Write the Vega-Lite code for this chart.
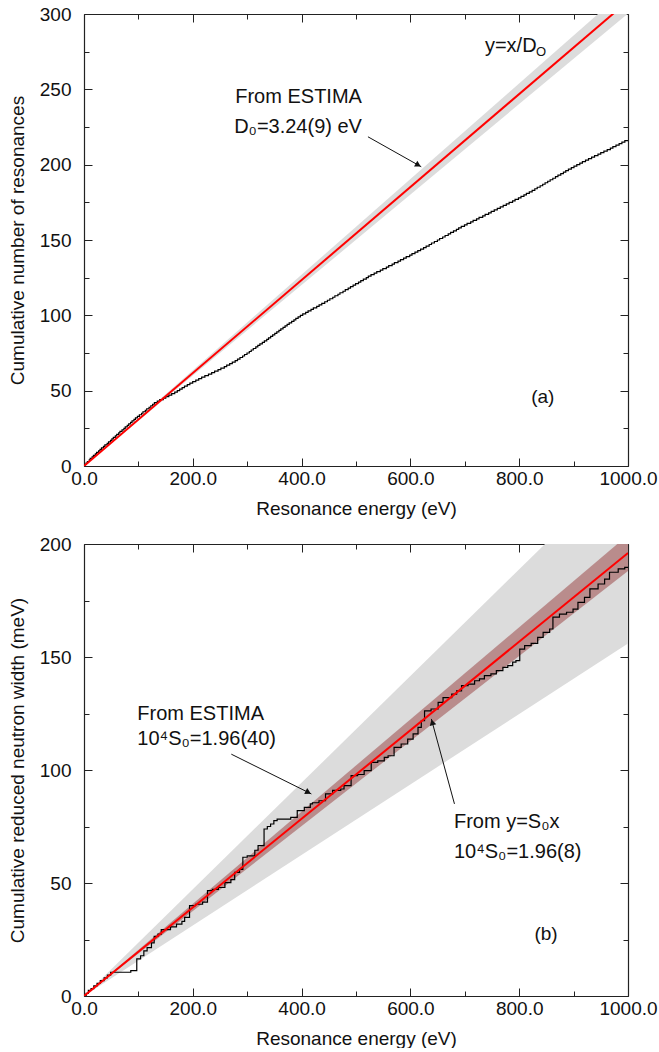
{
  "$schema": "https://vega.github.io/schema/vega-lite/v6.json",
  "padding": {"left": 8, "top": 5, "right": 0, "bottom": 0},
  "bounds": "flush",
  "spacing": 78,
  "config": {
    "font": "Liberation Sans",
    "view": {"stroke": null},
    "axis": {
      "grid": false,
      "labelFont": "Liberation Sans",
      "labelFontSize": 19,
      "labelColor": "#111",
      "titleFont": "Liberation Sans",
      "titleFontSize": 19,
      "titleFontWeight": "normal",
      "titleColor": "#111",
      "domainColor": "#222",
      "domainWidth": 1.2,
      "tickColor": "#222",
      "tickWidth": 1,
      "labelFlush": false,
      "labelOverlap": false,
      "labelBound": false
    },
    "text": {"font": "Liberation Sans", "fontSize": 19, "color": "#111", "align": "left", "baseline": "middle"}
  },
  "vconcat": [
    {
      "width": 544,
      "height": 452,
      "layer": [
        {
          "data": {"values": [{"E": 0, "lo": 0, "hi": 0}, {"E": 1000, "lo": 300.3, "hi": 317.5}]},
          "mark": {"type": "area", "color": "#dcdcdc", "clip": true},
          "encoding": {
            "x": {"field": "E", "type": "quantitative", "scale": {"domain": [0, 1000], "nice": false},
              "axis": {"orient": "bottom", "title": "Resonance energy (eV)", "values": [0, 100, 200, 300, 400, 500, 600, 700, 800, 900, 1000],
                "labelExpr": "datum.value % 200 === 0 ? format(datum.value, '.1f') : ''",
                "tickSize": {"condition": {"test": "datum.value % 200 === 0", "value": -8}, "value": -5},
                "labelPadding": 11, "titlePadding": 8}},
            "y": {"field": "lo", "type": "quantitative", "scale": {"domain": [0, 300], "nice": false},
              "axis": {"orient": "left", "title": "Cumulative number of resonances", "values": [0, 25, 50, 75, 100, 125, 150, 175, 200, 225, 250, 275, 300],
                "labelExpr": "datum.value % 50 === 0 ? datum.label : ''",
                "tickSize": {"condition": {"test": "datum.value % 50 === 0", "value": -8}, "value": -5},
                "labelPadding": 21, "titlePadding": 12}},
            "y2": {"field": "hi"}
          }
        },
        {
          "data": {"name": "levels", "values": [
            {"E": 0, "N": 0},
            {"E": 1.5, "N": 1}, {"E": 3.8, "N": 2}, {"E": 6.2, "N": 3}, {"E": 9.7, "N": 4}, {"E": 11.4, "N": 5}, {"E": 14.9, "N": 6}, {"E": 17.3, "N": 7}, {"E": 20.8, "N": 8}, {"E": 23.1, "N": 9}, {"E": 26.9, "N": 10},
            {"E": 29.5, "N": 11}, {"E": 32.2, "N": 12}, {"E": 35.8, "N": 13}, {"E": 38.4, "N": 14}, {"E": 42.6, "N": 15}, {"E": 45.1, "N": 16}, {"E": 48.7, "N": 17},
            {"E": 51.3, "N": 18}, {"E": 53.9, "N": 19}, {"E": 57.6, "N": 20}, {"E": 60.2, "N": 21}, {"E": 63.8, "N": 22}, {"E": 66.1, "N": 23}, {"E": 69.9, "N": 24}, {"E": 73.4, "N": 25},
            {"E": 75.8, "N": 26}, {"E": 79.5, "N": 27}, {"E": 82.2, "N": 28}, {"E": 85.7, "N": 29}, {"E": 88.3, "N": 30}, {"E": 91.9, "N": 31}, {"E": 94.6, "N": 32}, {"E": 98.2, "N": 33},
            {"E": 101.8, "N": 34}, {"E": 105.9, "N": 35}, {"E": 108.4, "N": 36}, {"E": 112.7, "N": 37}, {"E": 115.3, "N": 38}, {"E": 119.6, "N": 39}, {"E": 122.8, "N": 40}, {"E": 126.1, "N": 41}, {"E": 129.4, "N": 42},
            {"E": 134.7, "N": 43}, {"E": 139.2, "N": 44}, {"E": 145.8, "N": 45}, {"E": 150.3, "N": 46}, {"E": 155.9, "N": 47}, {"E": 161.2, "N": 48}, {"E": 166.8, "N": 49}, {"E": 171.5, "N": 50},
            {"E": 175.9, "N": 51}, {"E": 180.4, "N": 52}, {"E": 184.7, "N": 53}, {"E": 189.9, "N": 54}, {"E": 194.6, "N": 55}, {"E": 199.8, "N": 56}, {"E": 205.5, "N": 57}, {"E": 210.9, "N": 58}, {"E": 216.3, "N": 59},
            {"E": 222.2, "N": 60}, {"E": 228.8, "N": 61}, {"E": 234.7, "N": 62}, {"E": 240.1, "N": 63}, {"E": 246.4, "N": 64}, {"E": 251.6, "N": 65}, {"E": 257.9, "N": 66}, {"E": 262.3, "N": 67}, {"E": 267.8, "N": 68},
            {"E": 272.6, "N": 69}, {"E": 277.9, "N": 70}, {"E": 282.2, "N": 71}, {"E": 286.7, "N": 72}, {"E": 291.5, "N": 73}, {"E": 295.1, "N": 74}, {"E": 299.6, "N": 75}, {"E": 303.9, "N": 76},
            {"E": 307.4, "N": 77}, {"E": 311.2, "N": 78}, {"E": 315.8, "N": 79}, {"E": 319.5, "N": 80}, {"E": 323.3, "N": 81},
            {"E": 327.8, "N": 82}, {"E": 331.6, "N": 83}, {"E": 335.9, "N": 84}, {"E": 339.2, "N": 85}, {"E": 343.1, "N": 86}, {"E": 346.8, "N": 87}, {"E": 350.7, "N": 88}, {"E": 354.4, "N": 89},
            {"E": 358.3, "N": 90}, {"E": 361.8, "N": 91}, {"E": 365.9, "N": 92}, {"E": 369.6, "N": 93}, {"E": 373.4, "N": 94}, {"E": 377.2, "N": 95}, {"E": 381.7, "N": 96}, {"E": 385.9, "N": 97}, {"E": 389.4, "N": 98}, {"E": 393.6, "N": 99},
            {"E": 397.8, "N": 100}, {"E": 402.1, "N": 101}, {"E": 407.5, "N": 102}, {"E": 411.9, "N": 103}, {"E": 417.3, "N": 104}, {"E": 421.6, "N": 105}, {"E": 427.8, "N": 106}, {"E": 432.2, "N": 107}, {"E": 437.1, "N": 108}, {"E": 442.5, "N": 109}, {"E": 447.4, "N": 110},
            {"E": 451.9, "N": 111}, {"E": 457.3, "N": 112}, {"E": 461.2, "N": 113}, {"E": 466.8, "N": 114}, {"E": 470.5, "N": 115}, {"E": 476.1, "N": 116}, {"E": 480.3, "N": 117}, {"E": 485.6, "N": 118}, {"E": 489.9, "N": 119},
            {"E": 494.7, "N": 120}, {"E": 499.2, "N": 121}, {"E": 504.6, "N": 122}, {"E": 508.8, "N": 123}, {"E": 513.5, "N": 124}, {"E": 518.9, "N": 125}, {"E": 522.7, "N": 126}, {"E": 527.6, "N": 127},
            {"E": 533.4, "N": 128}, {"E": 538.2, "N": 129}, {"E": 544.7, "N": 130}, {"E": 549.3, "N": 131}, {"E": 555.8, "N": 132}, {"E": 560.1, "N": 133}, {"E": 566.4, "N": 134}, {"E": 570.6, "N": 135},
            {"E": 577.2, "N": 136}, {"E": 581.8, "N": 137}, {"E": 587.5, "N": 138}, {"E": 592.3, "N": 139}, {"E": 598.7, "N": 140}, {"E": 602.9, "N": 141}, {"E": 608.4, "N": 142}, {"E": 613.6, "N": 143},
            {"E": 618.7, "N": 144}, {"E": 624.2, "N": 145}, {"E": 628.9, "N": 146}, {"E": 634.5, "N": 147}, {"E": 638.8, "N": 148}, {"E": 644.1, "N": 149}, {"E": 649.6, "N": 150}, {"E": 653.7, "N": 151},
            {"E": 659.3, "N": 152}, {"E": 663.8, "N": 153}, {"E": 669.5, "N": 154}, {"E": 673.9, "N": 155}, {"E": 679.2, "N": 156}, {"E": 684.6, "N": 157}, {"E": 688.7, "N": 158}, {"E": 693.5, "N": 159},
            {"E": 699.4, "N": 160}, {"E": 704.2, "N": 161}, {"E": 710.8, "N": 162}, {"E": 715.3, "N": 163}, {"E": 721.6, "N": 164}, {"E": 726.2, "N": 165}, {"E": 732.9, "N": 166}, {"E": 737.4, "N": 167},
            {"E": 743.8, "N": 168}, {"E": 748.5, "N": 169}, {"E": 754.1, "N": 170}, {"E": 759.7, "N": 171}, {"E": 765.2, "N": 172}, {"E": 770.6, "N": 173}, {"E": 776.3, "N": 174}, {"E": 781.5, "N": 175},
            {"E": 787.8, "N": 176}, {"E": 792.4, "N": 177}, {"E": 798.6, "N": 178}, {"E": 803.3, "N": 179}, {"E": 808.7, "N": 180}, {"E": 813.2, "N": 181},
            {"E": 818.6, "N": 182}, {"E": 823.8, "N": 183}, {"E": 828.7, "N": 184}, {"E": 833.1, "N": 185}, {"E": 838.5, "N": 186}, {"E": 843.2, "N": 187}, {"E": 847.6, "N": 188}, {"E": 852.4, "N": 189},
            {"E": 856.9, "N": 190}, {"E": 861.8, "N": 191}, {"E": 866.7, "N": 192}, {"E": 871.2, "N": 193}, {"E": 876.4, "N": 194}, {"E": 881.3, "N": 195}, {"E": 885.6, "N": 196}, {"E": 890.5, "N": 197},
            {"E": 895.8, "N": 198}, {"E": 900.7, "N": 199}, {"E": 905.9, "N": 200}, {"E": 911.4, "N": 201},
            {"E": 916.2, "N": 202}, {"E": 921.9, "N": 203}, {"E": 927.4, "N": 204}, {"E": 933.1, "N": 205}, {"E": 938.5, "N": 206}, {"E": 944.8, "N": 207}, {"E": 949.9, "N": 208}, {"E": 955.7, "N": 209},
            {"E": 961.8, "N": 210}, {"E": 967.6, "N": 211}, {"E": 972.2, "N": 212}, {"E": 977.9, "N": 213}, {"E": 983.7, "N": 214}, {"E": 988.8, "N": 215}, {"E": 994.2, "N": 216},
            {"E": 1000, "N": 216}
          ]},
          "mark": {"type": "line", "interpolate": "step-after", "color": "#000", "strokeWidth": 1.2, "clip": true},
          "encoding": {
            "x": {"field": "E", "type": "quantitative", "scale": {"domain": [0, 1000], "nice": false},
              "axis": {"orient": "top", "title": null, "labels": false, "values": [0, 100, 200, 300, 400, 500, 600, 700, 800, 900, 1000],
                "tickSize": {"condition": {"test": "datum.value % 200 === 0", "value": -8}, "value": -5}}},
            "y": {"field": "N", "type": "quantitative", "scale": {"domain": [0, 300], "nice": false},
              "axis": {"orient": "right", "title": null, "labels": false, "values": [0, 25, 50, 75, 100, 125, 150, 175, 200, 225, 250, 275, 300],
                "tickSize": {"condition": {"test": "datum.value % 50 === 0", "value": -8}, "value": -5}}}
          }
        },
        {
          "data": {"values": [{"E": 0, "N": 0}, {"E": 1000, "N": 308.6}]},
          "mark": {"type": "line", "color": "#ff0000", "strokeWidth": 2, "clip": true},
          "encoding": {
            "x": {"field": "E", "type": "quantitative", "scale": {"domain": [0, 1000], "nice": false}, "axis": null},
            "y": {"field": "N", "type": "quantitative", "scale": {"domain": [0, 300], "nice": false}, "axis": null}
          }
        },
        {
          "data": {"values": [
            {"E": 278, "N": 245, "t": "From ESTIMA"},
            {"E": 276, "N": 225, "t": "D₀=3.24(9) eV"},
            {"E": 737, "N": 279, "t": "y=x/D"}
          ]},
          "mark": {"type": "text", "fontSize": 20},
          "encoding": {
            "x": {"field": "E", "type": "quantitative", "scale": {"domain": [0, 1000], "nice": false}, "axis": null},
            "y": {"field": "N", "type": "quantitative", "scale": {"domain": [0, 300], "nice": false}, "axis": null},
            "text": {"field": "t"}
          }
        },
        {
          "data": {"values": [{"E": 822, "N": 46, "t": "(a)"}]},
          "mark": {"type": "text"},
          "encoding": {
            "x": {"field": "E", "type": "quantitative", "scale": {"domain": [0, 1000], "nice": false}, "axis": null},
            "y": {"field": "N", "type": "quantitative", "scale": {"domain": [0, 300], "nice": false}, "axis": null},
            "text": {"field": "t"}
          }
        },
        {
          "data": {"values": [{"E": 737, "N": 279, "t": "O"}]},
          "mark": {"type": "text", "fontSize": 13, "dx": 51, "dy": 6},
          "encoding": {
            "x": {"field": "E", "type": "quantitative", "scale": {"domain": [0, 1000], "nice": false}, "axis": null},
            "y": {"field": "N", "type": "quantitative", "scale": {"domain": [0, 300], "nice": false}, "axis": null},
            "text": {"field": "t"}
          }
        },
        {
          "data": {"values": [{"E": 522, "N": 218.5, "E2": 620, "N2": 198.6}]},
          "mark": {"type": "rule", "color": "#111", "strokeWidth": 1},
          "encoding": {
            "x": {"field": "E", "type": "quantitative", "scale": {"domain": [0, 1000], "nice": false}, "axis": null},
            "y": {"field": "N", "type": "quantitative", "scale": {"domain": [0, 300], "nice": false}, "axis": null},
            "x2": {"field": "E2"},
            "y2": {"field": "N2"}
          }
        },
        {
          "data": {"values": [{"E": 614.4, "N": 199.7}]},
          "mark": {"type": "point", "shape": "triangle-right", "filled": true, "color": "#111", "size": 45, "angle": 29.4, "opacity": 1},
          "encoding": {
            "x": {"field": "E", "type": "quantitative", "scale": {"domain": [0, 1000], "nice": false}, "axis": null},
            "y": {"field": "N", "type": "quantitative", "scale": {"domain": [0, 300], "nice": false}, "axis": null}
          }
        }
      ],
      "resolve": {"axis": {"x": "independent", "y": "independent"}}
    },
    {
      "width": 544,
      "height": 452,
      "layer": [
        {
          "data": {"values": [{"E": 0, "lo": 0, "hi": 0}, {"E": 1000, "lo": 156, "hi": 236}]},
          "mark": {"type": "area", "color": "#dcdcdc", "clip": true},
          "encoding": {
            "x": {"field": "E", "type": "quantitative", "scale": {"domain": [0, 1000], "nice": false},
              "axis": {"orient": "bottom", "title": "Resonance energy (eV)", "values": [0, 100, 200, 300, 400, 500, 600, 700, 800, 900, 1000],
                "labelExpr": "datum.value % 200 === 0 ? format(datum.value, '.1f') : ''",
                "tickSize": {"condition": {"test": "datum.value % 200 === 0", "value": -8}, "value": -5},
                "labelPadding": 11, "titlePadding": 8}},
            "y": {"field": "lo", "type": "quantitative", "scale": {"domain": [0, 200], "nice": false},
              "axis": {"orient": "left", "title": "Cumulative reduced neutron width (meV)", "values": [0, 25, 50, 75, 100, 125, 150, 175, 200],
                "labelExpr": "datum.value % 50 === 0 ? datum.label : ''",
                "tickSize": {"condition": {"test": "datum.value % 50 === 0", "value": -8}, "value": -5},
                "labelPadding": 21, "titlePadding": 12}},
            "y2": {"field": "hi"}
          }
        },
        {
          "data": {"values": [{"E": 0, "lo": 0, "hi": 0}, {"E": 1000, "lo": 188, "hi": 204}]},
          "mark": {"type": "area", "color": "#b98c8c", "clip": true},
          "encoding": {
            "x": {"field": "E", "type": "quantitative", "scale": {"domain": [0, 1000], "nice": false}, "axis": null},
            "y": {"field": "lo", "type": "quantitative", "scale": {"domain": [0, 200], "nice": false}, "axis": null},
            "y2": {"field": "hi"}
          }
        },
        {
          "data": {"values": [
            {"E": 0, "G": 0}, {"E": 4, "G": 1.2}, {"E": 8, "G": 2.5}, {"E": 13, "G": 3.3}, {"E": 18, "G": 4.5}, {"E": 24, "G": 5.6}, {"E": 30, "G": 6.8}, {"E": 37, "G": 8}, {"E": 43, "G": 9.2}, {"E": 49, "G": 10.5},
            {"E": 86, "G": 11.2}, {"E": 97, "G": 16.4}, {"E": 104, "G": 17.8}, {"E": 110, "G": 20}, {"E": 116, "G": 21.4}, {"E": 124, "G": 23.5}, {"E": 129, "G": 26.4}, {"E": 136, "G": 27.4},
            {"E": 142, "G": 29.4}, {"E": 159, "G": 30.6}, {"E": 170, "G": 31.8}, {"E": 180, "G": 33}, {"E": 185, "G": 34.8}, {"E": 194, "G": 40}, {"E": 205, "G": 40.6}, {"E": 218, "G": 41.5},
            {"E": 227, "G": 46.6}, {"E": 236, "G": 47.2}, {"E": 247, "G": 48}, {"E": 259, "G": 50.2}, {"E": 270, "G": 51.5}, {"E": 277, "G": 54.7}, {"E": 286, "G": 56}, {"E": 292, "G": 61.4},
            {"E": 300, "G": 62}, {"E": 314, "G": 64.5}, {"E": 320, "G": 66.5}, {"E": 331, "G": 73.9}, {"E": 337, "G": 75}, {"E": 343, "G": 76.1}, {"E": 349, "G": 77.6}, {"E": 355, "G": 78.3},
            {"E": 380, "G": 79}, {"E": 392, "G": 82}, {"E": 405, "G": 83.5}, {"E": 416, "G": 85}, {"E": 420, "G": 85.5}, {"E": 432, "G": 86.4}, {"E": 444, "G": 89.4}, {"E": 457, "G": 91},
            {"E": 472, "G": 91.6}, {"E": 478, "G": 93.1}, {"E": 491, "G": 97.5}, {"E": 503, "G": 98}, {"E": 515, "G": 99.7}, {"E": 528, "G": 103.4}, {"E": 540, "G": 104}, {"E": 552, "G": 105.6},
            {"E": 559, "G": 106.3}, {"E": 570, "G": 110}, {"E": 583, "G": 111.5}, {"E": 595, "G": 113.7}, {"E": 605, "G": 116}, {"E": 614, "G": 118.9}, {"E": 620, "G": 121.8}, {"E": 626, "G": 126.2},
            {"E": 638, "G": 127}, {"E": 651, "G": 129.9}, {"E": 660, "G": 132}, {"E": 676, "G": 133.6}, {"E": 685, "G": 135}, {"E": 694, "G": 137.3}, {"E": 706, "G": 138}, {"E": 718, "G": 139.5},
            {"E": 727, "G": 140.3}, {"E": 736, "G": 141.8}, {"E": 748, "G": 142.5}, {"E": 758, "G": 144}, {"E": 770, "G": 145.4}, {"E": 779, "G": 146.2}, {"E": 788, "G": 147.7}, {"E": 794, "G": 148.4},
            {"E": 801, "G": 153.5}, {"E": 810, "G": 155}, {"E": 822, "G": 156}, {"E": 834, "G": 158.7}, {"E": 844, "G": 160.9}, {"E": 856, "G": 162.4}, {"E": 862, "G": 167.6}, {"E": 874, "G": 169},
            {"E": 887, "G": 169.8}, {"E": 899, "G": 171.2}, {"E": 908, "G": 174.2}, {"E": 920, "G": 176.4}, {"E": 930, "G": 180.1}, {"E": 945, "G": 182.3}, {"E": 957, "G": 184.5}, {"E": 966, "G": 187.5},
            {"E": 982, "G": 189}, {"E": 994, "G": 189.7}, {"E": 1000, "G": 189.7}
          ]},
          "mark": {"type": "line", "interpolate": "step-after", "color": "#000", "strokeWidth": 1.2, "clip": true},
          "encoding": {
            "x": {"field": "E", "type": "quantitative", "scale": {"domain": [0, 1000], "nice": false},
              "axis": {"orient": "top", "title": null, "labels": false, "values": [0, 100, 200, 300, 400, 500, 600, 700, 800, 900, 1000],
                "tickSize": {"condition": {"test": "datum.value % 200 === 0", "value": -8}, "value": -5}}},
            "y": {"field": "G", "type": "quantitative", "scale": {"domain": [0, 200], "nice": false},
              "axis": {"orient": "right", "title": null, "labels": false, "values": [0, 25, 50, 75, 100, 125, 150, 175, 200],
                "tickSize": {"condition": {"test": "datum.value % 50 === 0", "value": -8}, "value": -5}}}
          }
        },
        {
          "data": {"values": [{"E": 0, "G": 0}, {"E": 1000, "G": 196}]},
          "mark": {"type": "line", "color": "#ff0000", "strokeWidth": 2, "clip": true},
          "encoding": {
            "x": {"field": "E", "type": "quantitative", "scale": {"domain": [0, 1000], "nice": false}, "axis": null},
            "y": {"field": "G", "type": "quantitative", "scale": {"domain": [0, 200], "nice": false}, "axis": null}
          }
        },
        {
          "data": {"values": [
            {"E": 98, "G": 124.8, "t": "From ESTIMA"},
            {"E": 98, "G": 113.7, "t": "10⁴S₀=1.96(40)"},
            {"E": 680, "G": 76.8, "t": "From y=S₀x"},
            {"E": 680, "G": 63.6, "t": "10⁴S₀=1.96(8)"}
          ]},
          "mark": {"type": "text", "fontSize": 20},
          "encoding": {
            "x": {"field": "E", "type": "quantitative", "scale": {"domain": [0, 1000], "nice": false}, "axis": null},
            "y": {"field": "G", "type": "quantitative", "scale": {"domain": [0, 200], "nice": false}, "axis": null},
            "text": {"field": "t"}
          }
        },
        {
          "data": {"values": [{"E": 828, "G": 27.4, "t": "(b)"}]},
          "mark": {"type": "text"},
          "encoding": {
            "x": {"field": "E", "type": "quantitative", "scale": {"domain": [0, 1000], "nice": false}, "axis": null},
            "y": {"field": "G", "type": "quantitative", "scale": {"domain": [0, 200], "nice": false}, "axis": null},
            "text": {"field": "t"}
          }
        },
        {
          "data": {"values": [{"E": 270.8, "G": 107, "E2": 418, "G2": 89.4}, {"E": 681, "G": 85, "E2": 638.5, "G2": 122.6}]},
          "mark": {"type": "rule", "color": "#111", "strokeWidth": 1},
          "encoding": {
            "x": {"field": "E", "type": "quantitative", "scale": {"domain": [0, 1000], "nice": false}, "axis": null},
            "y": {"field": "G", "type": "quantitative", "scale": {"domain": [0, 200], "nice": false}, "axis": null},
            "x2": {"field": "E2"},
            "y2": {"field": "G2"}
          }
        },
        {
          "data": {"values": [{"E": 412.3, "G": 90.1}]},
          "mark": {"type": "point", "shape": "triangle-right", "filled": true, "color": "#111", "size": 45, "angle": 26.6, "opacity": 1},
          "encoding": {
            "x": {"field": "E", "type": "quantitative", "scale": {"domain": [0, 1000], "nice": false}, "axis": null},
            "y": {"field": "G", "type": "quantitative", "scale": {"domain": [0, 200], "nice": false}, "axis": null}
          }
        },
        {
          "data": {"values": [{"E": 640.2, "G": 121.1}]},
          "mark": {"type": "point", "shape": "triangle-right", "filled": true, "color": "#111", "size": 45, "angle": 254.6, "opacity": 1},
          "encoding": {
            "x": {"field": "E", "type": "quantitative", "scale": {"domain": [0, 1000], "nice": false}, "axis": null},
            "y": {"field": "G", "type": "quantitative", "scale": {"domain": [0, 200], "nice": false}, "axis": null}
          }
        }
      ],
      "resolve": {"axis": {"x": "independent", "y": "independent"}}
    }
  ]
}
